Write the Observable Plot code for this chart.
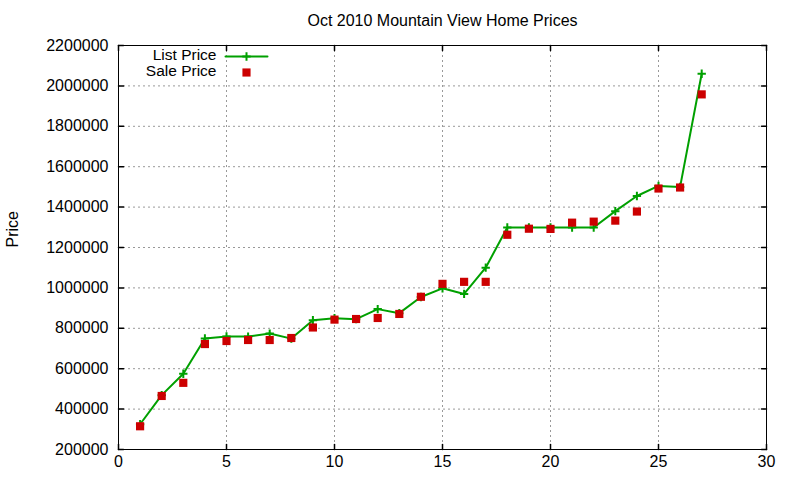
<!DOCTYPE html>
<html>
<head>
<meta charset="utf-8">
<script src="https://cdn.jsdelivr.net/npm/d3@7"></script>
<script src="https://cdn.jsdelivr.net/npm/@observablehq/plot@0.6"></script>
<style>
  html, body { margin: 0; padding: 0; background: white; }
</style>
</head>
<body>
<div id="chart"></div>
<script>
const houseIndex = [1,2,3,4,5,6,7,8,9,10,11,12,13,14,15,16,17,18,19,20,21,22,23,24,25,26,27];
const listPrice = [325000, 469000, 575000, 750000, 760000, 759000, 774000, 749000, 840000, 850000,
  845000, 895000, 875000, 955000, 998000, 970000, 1100000, 1299000, 1299000, 1299000,
  1299000, 1299000, 1380000, 1455000, 1505000, 1500000, 2060000];
const salePrice = [315000, 465000, 530000, 722000, 737000, 742000, 742000, 752000, 804000, 843000,
  846000, 851000, 871000, 956000, 1020000, 1030000, 1030000, 1263000, 1293000, 1292000,
  1323000, 1328000, 1333000, 1378000, 1492000, 1497000, 1958000];
const xTicks = [0, 5, 10, 15, 20, 25, 30];
const yTicks = [200000, 400000, 600000, 800000, 1000000, 1200000, 1400000, 1600000, 1800000, 2000000, 2200000];
const titleText = "Oct 2010 Mountain View Home Prices";
const yLabel = "Price";
const seriesNames = ["List Price", "Sale Price"];

const listData = houseIndex.map((x, i) => ({x, price: listPrice[i]}));
const saleData = houseIndex.map((x, i) => ({x, price: salePrice[i]}));

const green = "#00a000";
const red = "#cc0000";
const tickShape = {draw(ctx, l) { ctx.moveTo(0, 0); ctx.lineTo(0, -l); }};

const chart = Plot.plot({
  width: 800,
  height: 480,
  marginLeft: 118,
  marginRight: 34,
  marginTop: 45,
  marginBottom: 31,
  style: {fontSize: "16px", fontFamily: "'Liberation Sans', Arial, sans-serif", background: "white", color: "black"},
  x: {domain: [0, 30]},
  y: {domain: [200000, 2200000]},
  marks: [
    Plot.gridX(xTicks.slice(1, -1), {stroke: "#999", strokeOpacity: 1, strokeDasharray: "2,3"}),
    Plot.gridY(yTicks.slice(1, -1), {stroke: "#999", strokeOpacity: 1, strokeDasharray: "2,3"}),
    Plot.axisX(xTicks, {tickSize: 0, tickPadding: 6, label: null, tickFormat: d => String(d), fontSize: 16}),
    Plot.axisY(yTicks, {tickSize: 0, tickPadding: 10, label: null, tickFormat: d => String(d), fontSize: 16}),
    Plot.vector(xTicks, {x: d => d, frameAnchor: "bottom", length: 5, rotate: 0, anchor: "start", shape: tickShape, stroke: "black"}),
    Plot.vector(xTicks, {x: d => d, frameAnchor: "top", length: 5, rotate: 180, anchor: "start", shape: tickShape, stroke: "black"}),
    Plot.vector(yTicks, {y: d => d, frameAnchor: "left", length: 5, rotate: 90, anchor: "start", shape: tickShape, stroke: "black"}),
    Plot.vector(yTicks, {y: d => d, frameAnchor: "right", length: 5, rotate: 270, anchor: "start", shape: tickShape, stroke: "black"}),
    Plot.frame({stroke: "black", strokeWidth: 1}),
    Plot.line(listData, {x: "x", y: "price", stroke: green, strokeWidth: 2}),
    Plot.dot(listData, {x: "x", y: "price", symbol: "plus", r: 2.8, stroke: green, strokeWidth: 2}),
    Plot.dot(saleData, {x: "x", y: "price", symbol: "square", r: 4.6, fill: red, stroke: null}),
    // title and y label
    Plot.text([titleText], {frameAnchor: "top", dy: -25, lineAnchor: "middle", fontSize: 16}),
    Plot.text([yLabel], {frameAnchor: "left", dx: -106, rotate: -90, fontSize: 16}),
    // legend
    Plot.text([seriesNames[0]], {frameAnchor: "top-left", dx: 98, dy: 10, lineAnchor: "middle", textAnchor: "end", fontSize: 15.5}),
    Plot.text([seriesNames[1]], {frameAnchor: "top-left", dx: 98, dy: 26, lineAnchor: "middle", textAnchor: "end", fontSize: 15.5}),
    Plot.vector([seriesNames[0]], {frameAnchor: "top-left", dx: 107, dy: 11, length: 42, rotate: 90, anchor: "start", shape: tickShape, stroke: green, strokeWidth: 2}),
    Plot.dot([seriesNames[0]], {frameAnchor: "top-left", dx: 128, dy: 11, symbol: "plus", r: 2.8, stroke: green, strokeWidth: 2}),
    Plot.dot([seriesNames[1]], {frameAnchor: "top-left", dx: 128, dy: 27, symbol: "square", r: 4.6, fill: red, stroke: null})
  ]
});
document.getElementById("chart").appendChild(chart);
</script>
</body>
</html>
